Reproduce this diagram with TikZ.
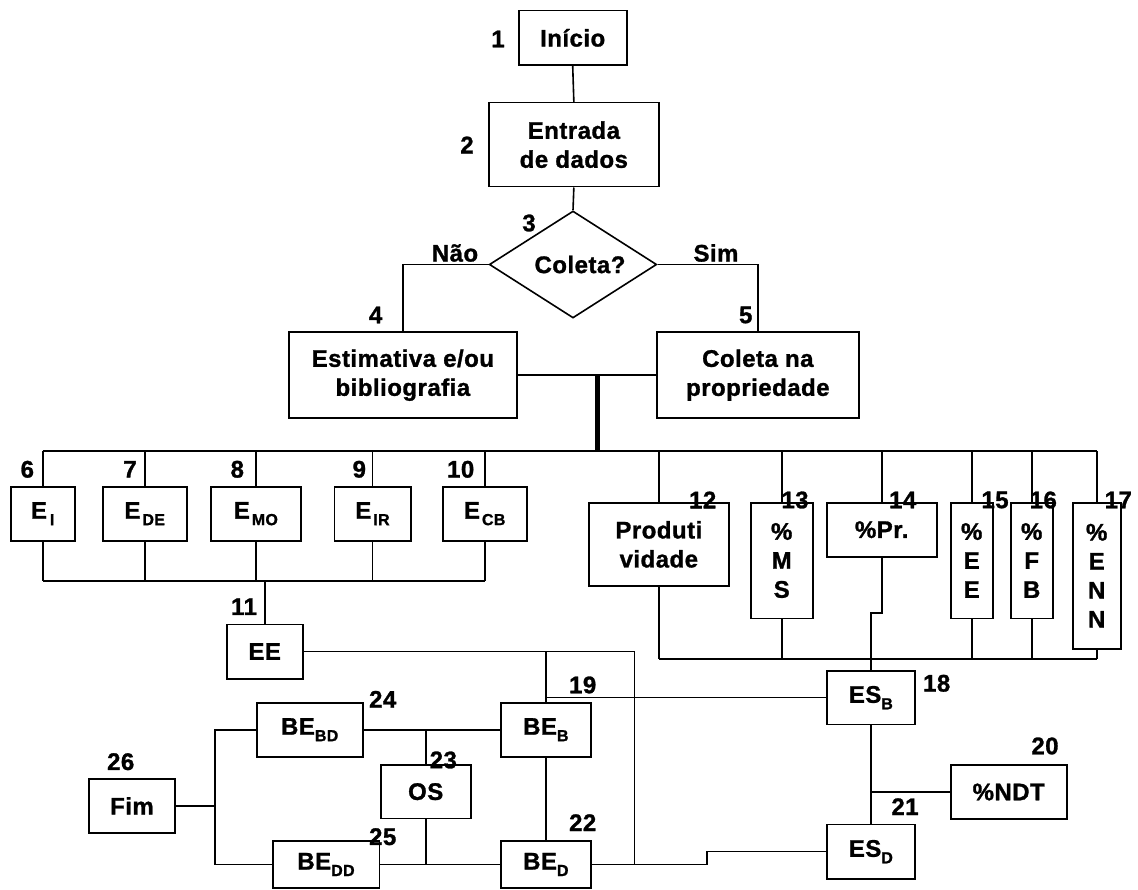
\documentclass[tikz,border=0pt]{standalone}
\usepackage{fontspec}
\setmainfont{Liberation Sans}[LetterSpace=2.0, BoldFeatures={FakeBold=1.2}]
\usetikzlibrary{shapes.geometric}
\newcommand\sbs[1]{\raisebox{-6.5pt}{\fontsize{16}{16}\selectfont #1}}
\begin{document}
\begin{tikzpicture}[x=1pt,y=-1pt,
  every node/.style={font=\fontsize{24}{29}\selectfont\bfseries},
  box/.style={draw, line width=1.6pt, inner sep=0pt, align=center},
  lbl/.style={inner sep=0pt},
  ln/.style={line width=1.6pt}]
\useasboundingbox (0,0) rectangle (1138,890);

% boxes
\node[box, minimum width=108pt, minimum height=54.3pt] (inicio) at (572.7,37.85) {Início};
\node[box, minimum width=170.3pt, minimum height=84pt] (entrada) at (573.85,144.7) {Entrada\\de dados};
\node[draw, line width=1.6pt, diamond, aspect=1.565, inner sep=0pt, minimum width=167.4pt, minimum height=107pt] (coleta) at (573,264.5) {\hspace*{14pt}Coleta?};
\node[box, minimum width=228.3pt, minimum height=86.3pt] (estim) at (402.85,375.15) {Estimativa e/ou\\bibliografia};
\node[box, minimum width=202.3pt, minimum height=86.3pt] (coletaprop) at (757.85,375.15) {Coleta na\\propriedade};

\node[box, minimum width=64pt, minimum height=54pt] (EI) at (42.7,513.7) {E\hspace{3pt}\sbs{I}};
\node[box, minimum width=84pt, minimum height=54pt] (EDE) at (144.7,513.7) {E\hspace{2pt}\sbs{DE}};
\node[box, minimum width=90.3pt, minimum height=54pt] (EMO) at (255.85,513.7) {E\hspace{2pt}\sbs{MO}};
\node[box, minimum width=76.4pt, minimum height=54pt] (EIR) at (372.5,513.7) {E\hspace{2pt}\sbs{IR}};
\node[box, minimum width=84pt, minimum height=54pt] (ECB) at (484.7,513.7) {E\hspace{2pt}\sbs{CB}};
\node[box, minimum width=76pt, minimum height=54.4pt] (EE) at (264.7,651.5) {EE};

\node[box, minimum width=140.3pt, minimum height=83.3pt] (Prod) at (658.85,544.35) {Produti\\vidade};
\node[box, minimum width=62pt, minimum height=115.6pt] (MS) at (781.7,560.5) {\%\\M\\S};
\node[box, minimum width=110pt, minimum height=54pt] (Pr) at (881.7,529.7) {\%Pr.};
\node[box, minimum width=42pt, minimum height=115.6pt] (EEp) at (971.7,560.5) {\%\\E\\E};
\node[box, minimum width=42pt, minimum height=115.6pt] (FB) at (1031.7,560.5) {\%\\F\\B};
\node[box, minimum width=48pt, minimum height=146pt] (ENN) at (1096.7,575.7) {\%\\E\\N\\N};

\node[box, minimum width=88.3pt, minimum height=53.3pt] (ESB) at (870.85,697.65) {ES\sbs{B}};
\node[box, minimum width=116pt, minimum height=54pt] (NDT) at (1008.7,792) {\%NDT};
\node[box, minimum width=88.3pt, minimum height=54.7pt] (ESD) at (870.85,851.65) {ES\sbs{D}};
\node[box, minimum width=90.3pt, minimum height=54pt] (BEB) at (545.85,729.7) {BE\sbs{B}};
\node[box, minimum width=90.3pt, minimum height=47pt] (BED) at (545.85,864.5) {BE\sbs{D}};
\node[box, minimum width=90pt, minimum height=53.3pt] (OS) at (425.7,791.65) {OS};
\node[box, minimum width=106pt, minimum height=54pt] (BEBD) at (309.7,729.7) {BE\sbs{BD}};
\node[box, minimum width=106.6pt, minimum height=47pt] (BEDD) at (326,864.5) {BE\sbs{DD}};
\node[box, minimum width=86pt, minimum height=53.7pt] (Fim) at (132,805.85) {Fim};

% connectors, top part
\draw[ln] (inicio.south) -- (entrada.north);
\draw[ln] (entrada.south) -- (coleta.north);
\draw[ln] (coleta.west) -| (estim.north);
\draw[ln] (coleta.east) -| (coletaprop.north);
\draw[ln] (estim.east) -- (coletaprop.west);
\coordinate (J) at (597,375.15);
\coordinate (busJ) at (597,450.7);
\draw[line width=5pt] (J) -- (busJ);

% upper bus
\coordinate (busL) at (42.7,450.7);
\coordinate (busR) at (1097.3,450.7);
\draw[ln] (busL) -- (busR);
\foreach \n in {EI,EDE,EMO,EIR,ECB,Prod,MS,Pr,EEp,FB,ENN}
  \draw[ln] (\n.north) -- (\n.north |- busL);

% lower bus 1
\coordinate (b1) at (0,580.7);
\foreach \n in {EI,EDE,EMO,EIR,ECB}
  \draw[ln] (\n.south) -- (\n.south |- b1);
\draw[ln] (EI.south |- b1) -- (ECB.south |- b1);
\draw[ln] (EE.north) -- (EE.north |- b1);

% lower bus 2
\coordinate (b2) at (0,658.7);
\foreach \n in {Prod,MS,EEp,FB,ENN}
  \draw[ln] (\n.south) -- (\n.south |- b2);
\draw[ln] (Prod.south |- b2) -- (ENN.south |- b2);

% %Pr to ES_B
\coordinate (pk) at (870.85,612.7);
\draw[ln] (Pr.south) |- (pk) -- (ESB.north);

% EE line
\coordinate (eeC) at (634.3,650.7);
\draw[ln] (EE.east) -- (eeC |- EE.east) -- (eeC |- BED.east);
\draw[ln] (BEB.north |- EE.east) -- (BEB.north);
\draw[ln] (BEB.north |- ESB.west) -- (ESB.west);
\draw[ln] (BEB.south) -- (BED.north);
\coordinate (stp) at (706.7,0);
\draw[ln] (BED.east) -| (stp |- ESD.west) -- (ESD.west);

% bottom-left
\draw[ln] (BEBD.east) -- (BEB.west);
\draw[ln] (OS.north) -- (OS.north |- BEBD.east);
\draw[ln] (BEDD.east) -- (BED.west);
\draw[ln] (OS.south) -- (OS.south |- BEDD.east);
\coordinate (fj) at (215,805.85);
\draw[ln] (Fim.east) -- (fj);
\draw[ln] (BEBD.west) -| (fj);
\draw[ln] (BEDD.west) -| (fj);

% ES
\draw[ln] (ESB.south) -- (ESD.north);
\draw[ln] (NDT.west) -- (NDT.west -| ESB.south);

% labels
\node[lbl] (l1) at (498,39) {1};
\node[lbl] (l2) at (467,145) {2};
\node[lbl] (l3) at (529,223) {3};
\node[lbl] (lnao) at (455,253) {Não};
\node[lbl] (lsim) at (716,253) {Sim};
\node[lbl] (l4) at (375.7,315) {4};
\node[lbl] (l5) at (745.7,315) {5};
\node[lbl] (l6) at (27.3,469.3) {6};
\node[lbl] (l7) at (130,469.3) {7};
\node[lbl] (l8) at (237.3,469.3) {8};
\node[lbl] (l9) at (359.3,469.3) {9};
\node[lbl] (l10) at (460.7,469.3) {10};
\node[lbl] (l11) at (244,606.7) {11};
\node[lbl] (l12) at (702.7,500) {12};
\node[lbl] (l13) at (795,500) {13};
\node[lbl] (l14) at (902.7,500) {14};
\node[lbl] (l15) at (995,500) {15};
\node[lbl] (l16) at (1043.3,500) {16};
\node[lbl] (l17) at (1118.3,500) {17};
\node[lbl] (l18) at (936.7,683.3) {18};
\node[lbl] (l19) at (582.7,685) {19};
\node[lbl] (l20) at (1045,746) {20};
\node[lbl] (l21) at (905,806.7) {21};
\node[lbl] (l22) at (582.7,822.7) {22};
\node[lbl] (l23) at (443.3,760) {23};
\node[lbl] (l24) at (382.7,699.3) {24};
\node[lbl] (l25) at (382.7,836.7) {25};
\node[lbl] (l26) at (120.7,761.7) {26};
\end{tikzpicture}
\end{document}
